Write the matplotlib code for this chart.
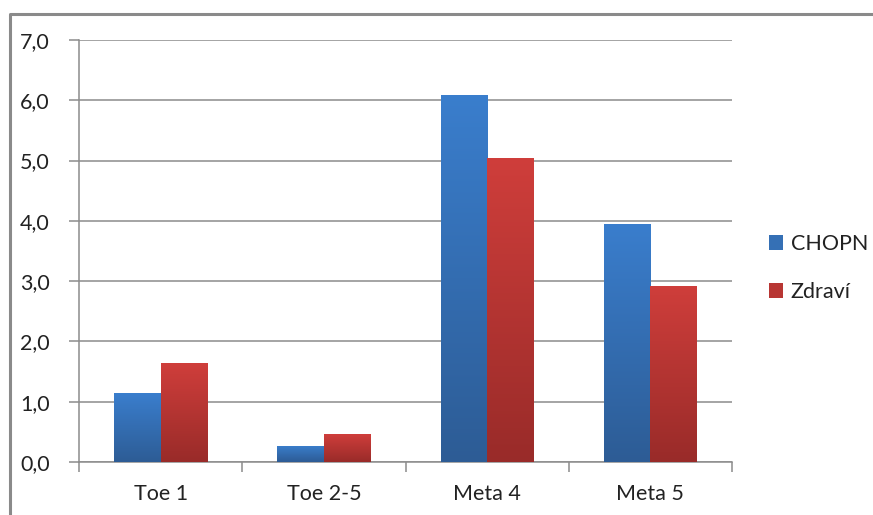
import numpy as np
import matplotlib
matplotlib.use("Agg")
import matplotlib.pyplot as plt
from matplotlib.colors import LinearSegmentedColormap
from matplotlib.lines import Line2D
from matplotlib.patches import Patch

categories = ["Toe 1", "Toe 2-5", "Meta 4", "Meta 5"]
chopn = [1.14, 0.27, 6.09, 3.95]
zdravi = [1.64, 0.46, 5.04, 2.92]
series_names = ["CHOPN", "Zdraví"]
yticks = [0, 1, 2, 3, 4, 5, 6, 7]

plt.rcParams['font.family'] = ['Lato', 'DejaVu Sans']
FS = 15.5

W, H = 873, 515
fig = plt.figure(figsize=(W / 100, H / 100), dpi=100)
ax = fig.add_axes([79 / W, 1 - 462 / H, (732 - 79) / W, (462 - 40) / H])

x = np.arange(len(categories))
bw = 0.285
blue_cmap = LinearSegmentedColormap.from_list("b", ["#2d5c95", "#3a7ecd"])
red_cmap = LinearSegmentedColormap.from_list("r", ["#992b29", "#cf3e3b"])

grad = np.linspace(0, 1, 256).reshape(-1, 1)
for vals, off, cmap, base in [(chopn, -bw / 2, blue_cmap, "#3570b5"), (zdravi, bw / 2, red_cmap, "#b83633")]:
    bars = ax.bar(x + off, vals, bw, color=base, edgecolor="none", zorder=3)
    for b in bars:
        x0, y0 = b.get_x(), b.get_y()
        w, h = b.get_width(), b.get_height()
        im = ax.imshow(grad, cmap=cmap, aspect="auto", origin="lower",
                       extent=[x0, x0 + w, y0, y0 + h], zorder=4)
        im.set_clip_path(b)

ax.set_xlim(-0.5, len(categories) - 0.5)
ax.set_ylim(0, 7)
ax.set_yticks(yticks)
ax.set_yticklabels([f"{v:.1f}".replace(".", ",") for v in yticks], fontsize=FS, color="#222222")
ax.yaxis.grid(True, color="#8c8c8c", linewidth=1.1, zorder=0)
ax.set_axisbelow(True)
ax.set_xticks(x)
ax.set_xticklabels(categories, fontsize=FS, color="#222222")
ax.tick_params(axis="x", length=0, pad=16)
ax.tick_params(axis="y", length=7, color="#8c8c8c", width=1.1, pad=14)
ax.set_xticks(np.arange(len(categories) + 1) - 0.5, minor=True)
ax.tick_params(axis="x", which="minor", length=7, color="#8c8c8c", width=1.1)
for s in ["top", "right"]:
    ax.spines[s].set_visible(False)
for s in ["left", "bottom"]:
    ax.spines[s].set_color("#8c8c8c")
    ax.spines[s].set_linewidth(1.1)

handles = [Patch(facecolor="#3570b5"), Patch(facecolor="#b83633")]
leg = fig.legend(handles, series_names, loc="center left",
                 bbox_to_anchor=(754 / W, 1 - 268 / H), frameon=False,
                 fontsize=FS, handlelength=0.65, handleheight=0.65,
                 handletextpad=0.35, labelspacing=1.3, borderpad=0.2)
for t in leg.get_texts():
    t.set_color("#222222")

fig.add_artist(Line2D([10 / W, 10 / W, 1.0], [0.0, 1 - 14 / H, 1 - 14 / H],
                      transform=fig.transFigure, color="#8a8a8a", linewidth=2.2))

fig.savefig("out.png", dpi=100)
